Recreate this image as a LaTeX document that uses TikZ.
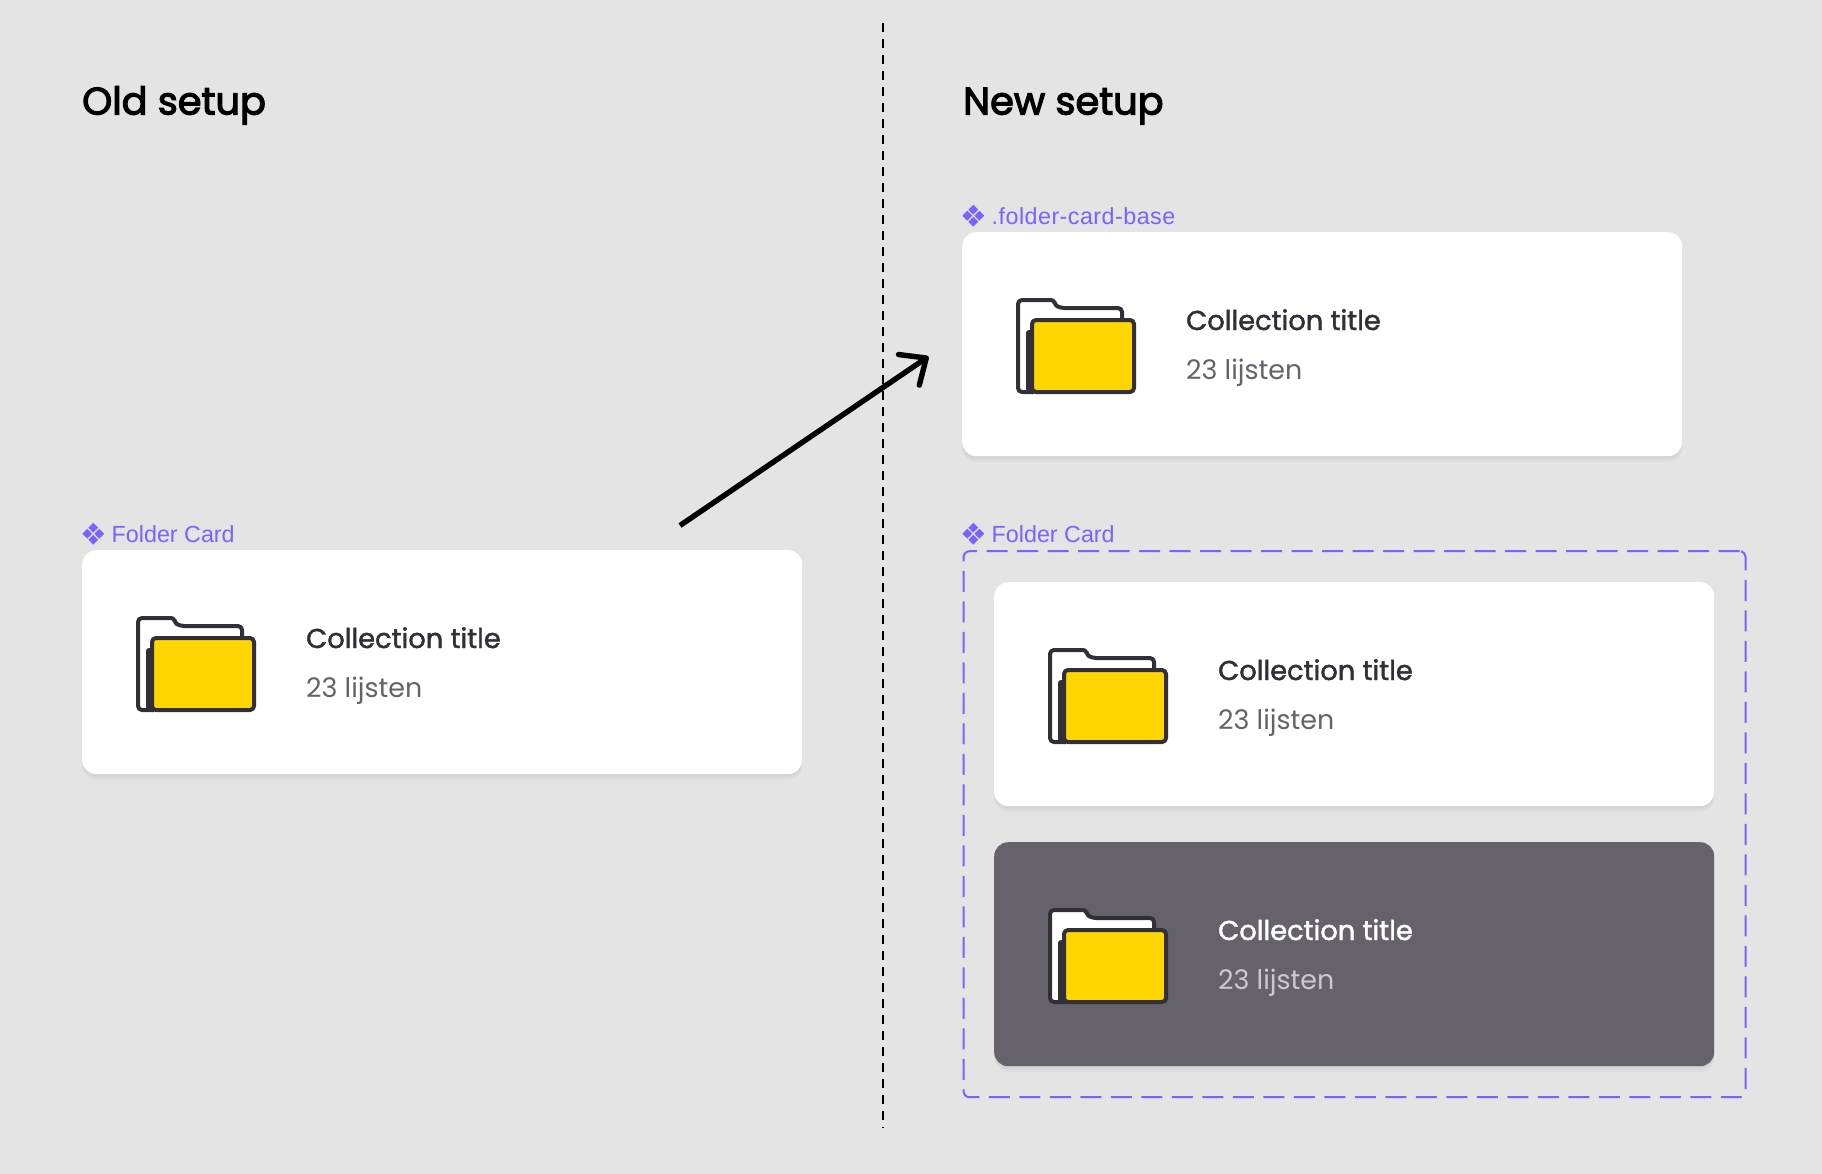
\documentclass[tikz,border=0pt]{standalone}
\usepackage{fontspec}
\usetikzlibrary{positioning, arrows.meta}
\setmainfont{Poppins}
\newfontfamily\labelfont{Liberation Sans}
\newfontfamily\cardfont[FakeBold=1.6]{Poppins}
\newfontfamily\headfont[FakeBold=3]{Poppins}

\definecolor{bgc}{HTML}{E4E4E4}
\definecolor{inkc}{HTML}{332F38}
\definecolor{slatec}{HTML}{65626C}
\definecolor{palec}{HTML}{CBC9CE}
\definecolor{purplec}{HTML}{7B61FF}
\definecolor{yellowc}{HTML}{FFD600}

\tikzset{
  card/.style={rectangle, anchor=north west, rounded corners=14pt, minimum width=720pt, minimum height=224pt, inner sep=0,
    preaction={fill=black, fill opacity=0.025, transform canvas={yshift=-2pt}},
    preaction={fill=black, fill opacity=0.025, transform canvas={yshift=-4pt}},
    preaction={fill=black, fill opacity=0.02, transform canvas={yshift=-6pt}}},
  cardtitle/.style={anchor=base west, inner sep=0, font=\cardfont\fontsize{27.3}{30}\selectfont},
  cardsub/.style={anchor=base west, inner sep=0, font=\fontsize{26.9}{30}\selectfont},
  heading/.style={anchor=base west, inner sep=0, font=\headfont\fontsize{38.3}{42}\selectfont, text=black},
  tag/.style={anchor=base west, inner sep=0, text=purplec, font=\labelfont\fontsize{23.3}{28}\selectfont},
  folderline/.style={draw=inkc, line width=4pt, line join=round}
}

% one card with its folder, the corner of the card is at (#2,#3)
\newcommand{\foldercard}[6]{
  \node[card, fill=#4] (#1card) at (#2,#3) {};
  \begin{scope}[shift={(#2,#3)}]
    \draw[folderline, fill=white, rounded corners=4pt]
      (160,90) -- (160,76) -- (98,76)
      [rounded corners=3pt] -- (93,73) -- (92,68)
      [rounded corners=4pt] -- (56,68) -- (56,160) -- (72,160);
    \fill[inkc, rounded corners=3pt] (64,160) -- (64,98) -- (72,98) -- (72,160) -- cycle;
    \draw[folderline, fill=yellowc, rounded corners=4pt] (70,88) rectangle (172,160);
    \node[cardtitle, text=#5] (#1title) at (224,98) {Collection title};
    \node[cardsub, text=#6] (#1sub) at (224,147) {23 lijsten};
  \end{scope}
}

% figma component mark with the label next to it
\newcommand{\foldertag}[4]{
  \foreach \dx/\dy in {-6/0, 6/0, 0/-6, 0/6}
    \fill[purplec, shift={(#2+11.3+\dx,#3-16.3+\dy)}] (-4.9,0) -- (0,-4.9) -- (4.9,0) -- (0,4.9) -- cycle;
  \node[tag] (#1) at (#2+29.5,#3-7.6) {#4};
}

\begin{document}
\begin{tikzpicture}[x=1pt, y=-1pt]

\fill[bgc] (0,0) rectangle (1822,1174);
\useasboundingbox (0,0) rectangle (1822,1174);

\node[heading] (oldhead) at (82,114.5) {Old setup};
\node[heading] (newhead) at (963,114.5) {New setup};

\coordinate (divtop) at (883,23);
\coordinate (divbot) at (883,1128);
\draw[black, line width=2.2pt, dash pattern=on 9pt off 7pt] (divtop) -- (divbot);

\foldertag{oldtag}{82}{550}{Folder Card}
\foldercard{old}{82}{550}{white}{inkc}{slatec}

\foldertag{basetag}{962}{232}{\addfontfeature{LetterSpace=2}.folder-card-base}
\foldercard{base}{962}{232}{white}{inkc}{slatec}

\foldertag{newtag}{962}{550}{Folder Card}
\node[draw=purplec, line width=2pt, dash pattern=on 21pt off 9.5pt, rounded corners=6pt, rectangle, anchor=north west, inner sep=0,
  minimum width=782pt, minimum height=546pt] (setbox) at (962.5,550.2) {};
\foldercard{light}{994}{582}{white}{inkc}{slatec}
\foldercard{dark}{994}{842}{slatec}{white}{palec}

\coordinate (arrowstart) at (680,525.5);
\coordinate (arrowend) at (928.5,356.5);
\draw[black, line width=5.4pt, -{Straight Barb[round, length=21pt, width=37pt]}] (arrowstart) -- (arrowend);

\end{tikzpicture}
\end{document}
